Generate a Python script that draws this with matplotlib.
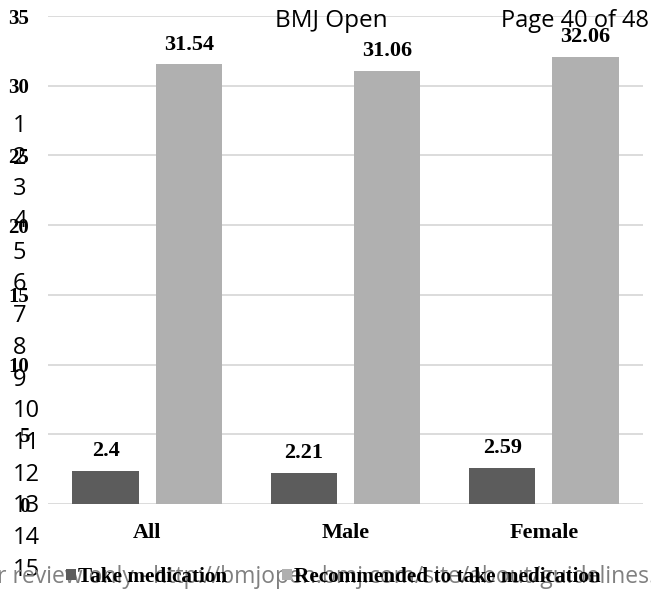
import matplotlib
matplotlib.use("Agg")
import matplotlib.pyplot as plt
import numpy as np

categories = ["All", "Male", "Female"]
take_medication = [2.4, 2.21, 2.59]
recommended = [31.54, 31.06, 32.06]
series_names = ["Take medication", "Recommended to take medication"]
yticks = [0, 5, 10, 15, 20, 25, 30, 35]

dark = "#5c5c5c"
light = "#b0b0b0"
serif = "Liberation Serif"

fig = plt.figure(figsize=(6.51, 5.90), dpi=100)
ax = fig.add_axes([48 / 651, 86 / 590, 595 / 651, 488 / 590])

x = np.arange(len(categories))
w = 0.333
off = 0.21
b1 = ax.bar(x - off, take_medication, w, color=dark, label=series_names[0], zorder=3)
b2 = ax.bar(x + off, recommended, w, color=light, label=series_names[1], zorder=3)

for bars, vals in ((b1, take_medication), (b2, recommended)):
    for r, v in zip(bars, vals):
        ax.annotate(f"{v:g}", (r.get_x() + r.get_width() / 2, v),
                    xytext=(0, 7), textcoords="offset points",
                    ha="center", va="bottom", fontsize=16,
                    fontweight="bold", family=serif)

ax.set_xlim(-0.5, 2.5)
ax.set_ylim(0, 35)
ax.set_yticks(yticks)
ax.set_xticks(x)
ax.set_xticklabels(categories)
ax.yaxis.grid(True, color="#d9d9d9", linewidth=1.3, zorder=0)
ax.set_axisbelow(True)
for s in ax.spines.values():
    s.set_visible(False)
ax.tick_params(axis="both", length=0)
ax.tick_params(axis="y", pad=13.5)
ax.tick_params(axis="x", pad=14)
for lab in ax.get_yticklabels():
    lab.set_family(serif)
    lab.set_fontweight("bold")
    lab.set_fontsize(15)
for lab in ax.get_xticklabels():
    lab.set_family(serif)
    lab.set_fontweight("bold")
    lab.set_fontsize(16)

leg = fig.legend(handles=[b1, b2], labels=series_names, loc="center",
                 bbox_to_anchor=(0.512, 13 / 590), ncol=2, frameon=False,
                 handlelength=0.45, handleheight=0.45, handletextpad=0.1,
                 columnspacing=2.6,
                 prop={"family": serif, "weight": "bold", "size": 15.3})

# page furniture of the manuscript
sans = "Open Sans"
fig.text(331 / 651, 1 - 21 / 590, "BMJ Open", ha="center", va="center",
         fontsize=17.5, family=sans)
fig.text(649 / 651, 1 - 21 / 590, "Page 40 of 48", ha="right", va="center",
         fontsize=17, family=sans)
for n in range(1, 16):
    y = 126 + (n - 1) * 31.7
    fig.text(13 / 651, 1 - y / 590, str(n), ha="left", va="center",
             fontsize=17, family=sans)
fig.text(-3 / 651, 1 - 577 / 590,
         "r review only - http://bmjopen.bmj.com/site/about/guidelines.xhtml",
         ha="left", va="center", fontsize=16.5, family=sans, color="#808080")

fig.savefig("out.png", dpi=100)
